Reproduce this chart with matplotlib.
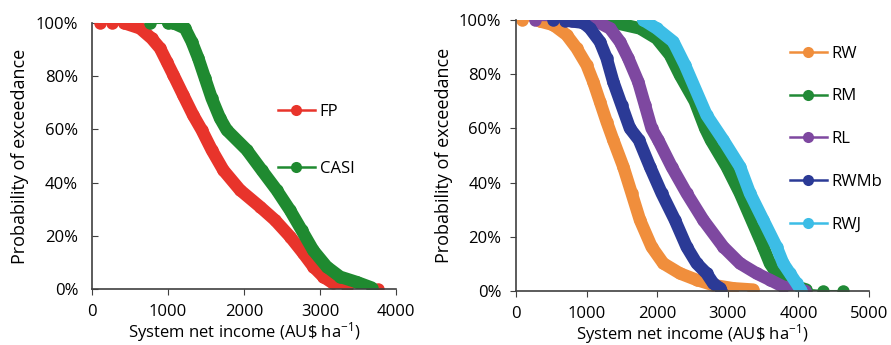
import matplotlib
import matplotlib.pyplot as plt
from matplotlib.lines import Line2D
from matplotlib.ticker import PercentFormatter

plt.rcParams['font.family'] = ['Open Sans', 'DejaVu Sans']
plt.rcParams['mathtext.fontset'] = 'custom'
plt.rcParams['mathtext.rm'] = 'Open Sans'
plt.rcParams['mathtext.it'] = 'Open Sans'
plt.rcParams['font.size'] = 12

# system net income (AU$/ha), with its exceedance probability (%)
fp = [105, 260, 420, 632, 785, 895, 983, 1070, 1200, 1330, 1443, 1575, 1728, 1948, 2211,
      2408, 2606, 2781, 2912, 3044, 3176, 3352, 3770]
p_fp = [100, 100, 100, 98, 94.2, 90.5, 85.5, 80.5, 72.9, 65.4, 59.8, 52.3, 44.7, 37.2, 30.9,
        25.9, 19.7, 13.4, 8.4, 4.6, 2.1, 0.9, 0]

casi = [763, 1004, 1070, 1224, 1312, 1399, 1487, 1575, 1684, 1772, 2036, 2233, 2430, 2606,
        2759, 2912, 3088, 3264, 3483, 3681]
p_casi = [100, 100, 100, 98, 93, 86.7, 79.2, 71.7, 64.2, 59.8, 52.3, 44.7, 37.2, 29.6,
          22.1, 14.5, 8.4, 4.6, 2.6, 0.5]

rw = [80, 340, 528, 717, 859, 1001, 1095, 1189, 1284, 1378, 1520, 1638, 1756, 1921, 2086,
      2322, 2559, 2794, 3077, 3361]
p_rw = [100, 99.5, 98.2, 94.5, 89.6, 83.4, 77.2, 69.9, 62.5, 55.7, 45.9, 36.1, 26.2, 16.3, 10.2,
        6.5, 4.1, 2.2, 1, 0.5]

rm = [1024, 1331, 1756, 1992, 2181, 2322, 2533, 2680, 2760, 2983, 3172, 3337, 3502, 3597,
      3691, 3833, 4113, 4350, 4632]
p_rm = [100, 99.4, 96.9, 93.2, 87.1, 79.7, 70, 60, 55.7, 45.9, 36.1, 26.2, 16.3, 10.2,
        6.5, 2.8, 0.5, 0, 0]

rl = [269, 800, 1142, 1331, 1473, 1590, 1732, 1827, 1921, 2015, 2204, 2417, 2653, 2936,
      3172, 3408, 3597, 3785, 4100]
p_rl = [100, 99.8, 99.5, 96.9, 92, 85.9, 77.2, 68.6, 60, 55.7, 45.9, 36.1, 26.2, 16.3,
        10.2, 6.5, 4.1, 1.6, 0]

rwmb = [528, 700, 953, 1048, 1189, 1284, 1378, 1496, 1614, 1742, 1897, 2063, 2251, 2417,
        2559, 2700, 2794, 2889, 2910]
p_rwmb = [100, 99.8, 99, 96.9, 92, 85.9, 77.2, 68.6, 60, 55.7, 45.9, 36.1, 26.2, 16.3,
          10.2, 6.5, 2.8, 1, 0]

rwj = [1803, 1992, 2228, 2393, 2700, 2936, 3172, 3313, 3502, 3691, 3785, 3880, 3975, 4043]
p_rwj = [100, 96.9, 92, 83.4, 64.9, 55.7, 45.9, 36.1, 26.2, 16.3, 10.2, 6.5, 2.8, 0]

# name, x, p, colour, slice of the densely packed part
left_series = [('FP', fp, p_fp, '#E8342B', slice(2, -1)),
               ('CASI', casi, p_casi, '#1F8A30', slice(1, None))]
right_series = [('RW', rw, p_rw, '#F08E3C', slice(1, None)),
                ('RM', rm, p_rm, '#218A36', slice(0, -2)),
                ('RL', rl, p_rl, '#7E48A0', slice(1, None)),
                ('RWMb', rwmb, p_rwmb, '#2B3A96', slice(1, None)),
                ('RWJ', rwj, p_rwj, '#3CBDE6', slice(0, None))]

fig = plt.figure(figsize=(8.91, 3.45), dpi=100)
ax1 = fig.add_axes([0.1033, 0.1623, 0.3411, 0.771])
ax2 = fig.add_axes([0.5791, 0.1565, 0.3962, 0.7855])


def draw(ax, series, xmax, tickdir, ypad, ylabpad):
    handles = []
    for name, x, p, c, dense in series:
        ax.plot(x, p, color=c, lw=1.5, marker='o', ms=9, mew=0, zorder=2)
        ax.plot(x[dense], p[dense], color=c, lw=9, solid_capstyle='round',
                solid_joinstyle='round', zorder=2)
        handles.append(Line2D([0], [0], color=c, lw=1.8, marker='o', ms=8, mew=0, label=name))
    ax.set_xlim(0, xmax)
    ax.set_ylim(0, 100)
    ax.set_xticks(range(0, xmax + 1, 1000))
    ax.set_yticks(range(0, 101, 20))
    ax.yaxis.set_major_formatter(PercentFormatter(decimals=0))
    for s in ['top', 'right']:
        ax.spines[s].set_visible(False)
    for s in ['left', 'bottom']:
        ax.spines[s].set_color('#404040')
        ax.spines[s].set_linewidth(1.2)
    ax.tick_params(axis='x', direction='out', length=4, color='#404040', labelsize=12, pad=7)
    ax.tick_params(axis='y', direction=tickdir, length=4, color='#404040', labelsize=12, pad=ypad)
    ax.set_xlabel('System net income (AU\\$ ha$^{-1}$)', fontsize=12, labelpad=0)
    ax.set_ylabel('Probability of exceedance', fontsize=13, labelpad=ylabpad)
    return handles


h1 = draw(ax1, left_series, 4000, 'in', 10, 5)
h2 = draw(ax2, right_series, 5000, 'out', 6.5, 4)

ax1.legend(handles=h1, loc='upper left', bbox_to_anchor=(0.612, 0.695), frameon=False,
           borderpad=0, borderaxespad=0, handlelength=2.2, handletextpad=0.3,
           labelspacing=2.45, fontsize=12)
ax2.legend(handles=h2, loc='upper left', bbox_to_anchor=(0.776, 0.905), frameon=False,
           borderpad=0, borderaxespad=0, handlelength=2.2, handletextpad=0.3,
           labelspacing=1.6, fontsize=12)

plt.savefig('out.png', dpi=100)
